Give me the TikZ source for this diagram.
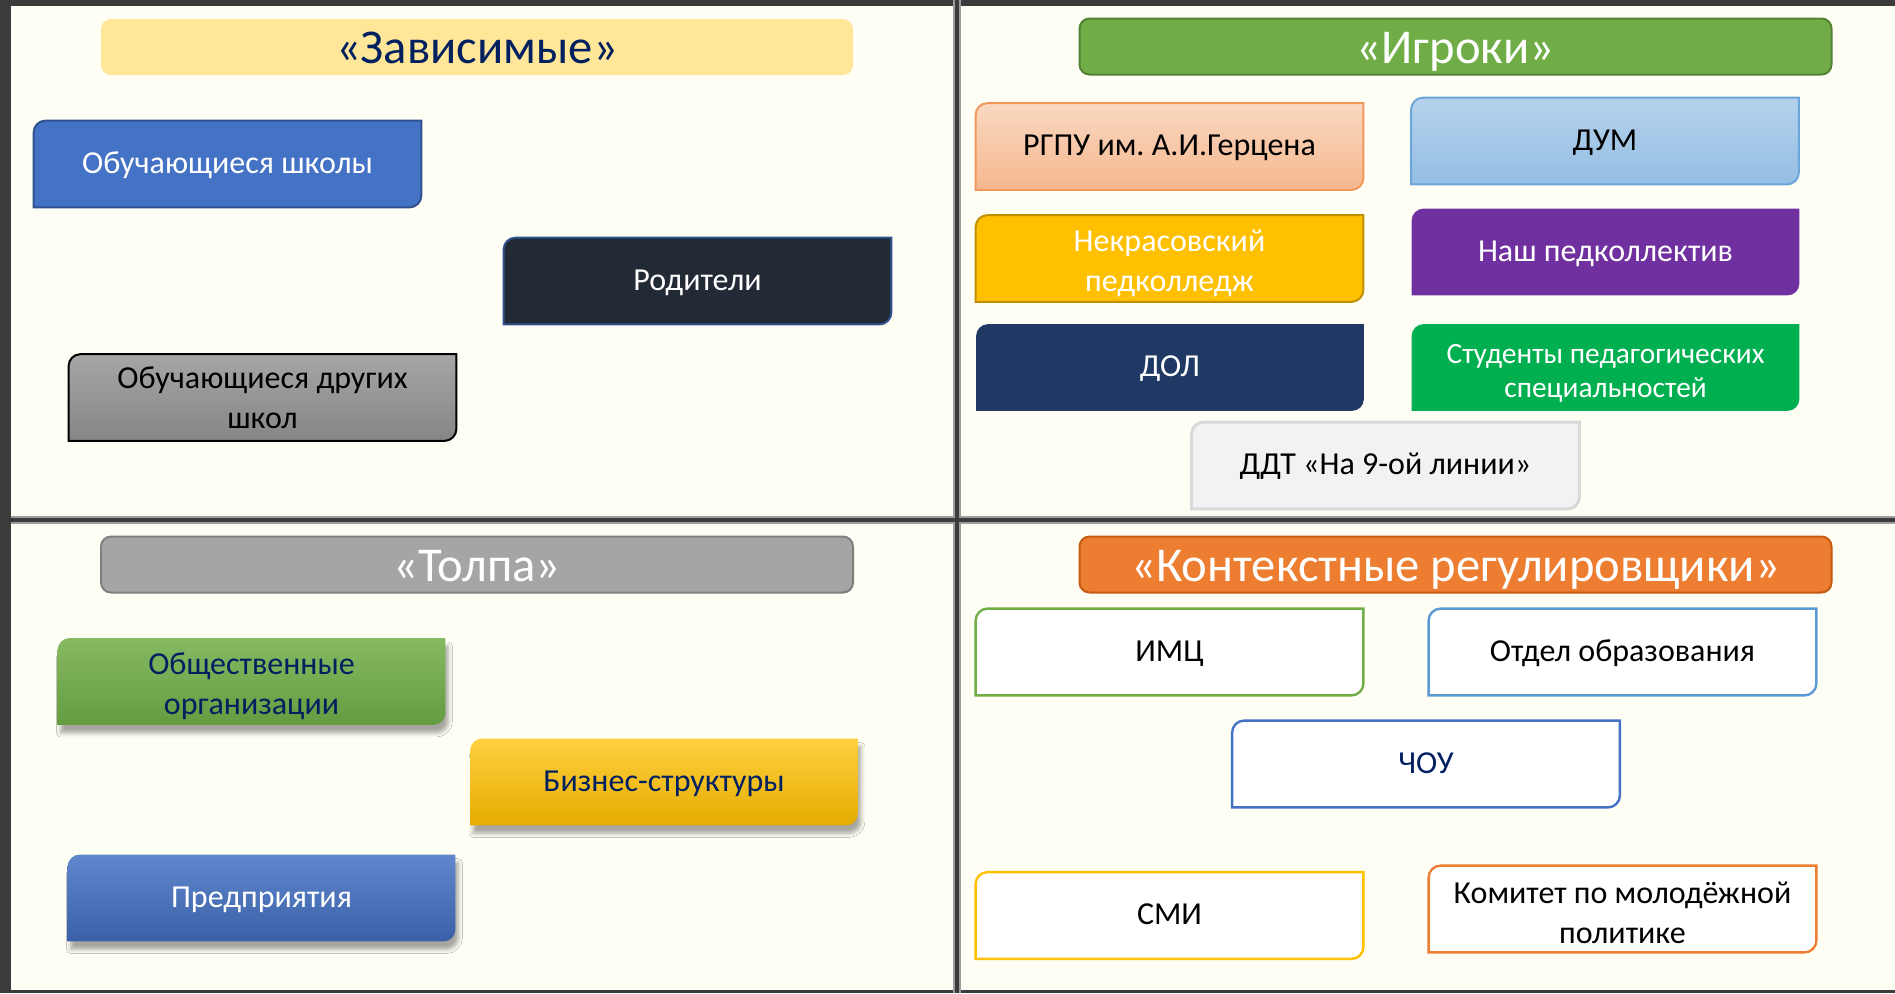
\documentclass[tikz,border=0pt]{standalone}
\usepackage{fontspec}
\setmainfont{Carlito}
\frenchspacing
\usetikzlibrary{calc,shadows.blur}
\pgfdeclarelayer{background}
\pgfsetlayers{background,main}

\definecolor{paper}{HTML}{FFFEF5}
\definecolor{frame}{HTML}{3B3B3B}
\definecolor{navy}{HTML}{002060}
\definecolor{schoolblue}{HTML}{4472C4}
\definecolor{edgeblue}{HTML}{2F528F}
\definecolor{parentdark}{HTML}{222A35}
\definecolor{lightyellow}{HTML}{FFE699}
\definecolor{grassgreen}{HTML}{70AD47}
\definecolor{darkgreen}{HTML}{548235}
\definecolor{midgray}{HTML}{A5A5A5}
\definecolor{edgegray}{HTML}{7F7F7F}
\definecolor{orange}{HTML}{ED7D31}
\definecolor{darkorange}{HTML}{C55A11}
\definecolor{gold}{HTML}{FFC000}
\definecolor{darkgold}{HTML}{BF9000}
\definecolor{violet}{HTML}{7030A0}
\definecolor{deepnavy}{HTML}{203864}
\definecolor{brightgreen}{HTML}{00B050}
\definecolor{skyblue}{HTML}{5B9BD5}
\definecolor{palegray}{HTML}{F2F2F2}
\definecolor{linegray}{HTML}{D9D9D9}

% raise the first line of a two-line card
\newcommand\liftline[1]{\rule{0pt}{#1}}

\tikzset{
  header/.style={minimum width=376pt, minimum height=28pt, inner sep=0pt,
    rounded corners=5pt, line width=1pt, text height=16.5pt, text depth=0pt,
    font=\fontsize{24.3}{29}\selectfont},
  card/.style={minimum width=193.5pt, minimum height=43pt, inner sep=0pt,
    align=center, font=\fontsize{16}{19.8}\selectfont,
    append after command={\pgfextra{\begin{pgfonlayer}{background}
      \path[line width=1pt,#1] (\tikzlastnode.south west)
        -- ($(\tikzlastnode.north west)+(0,-6pt)$)
        arc[start angle=180,end angle=90,radius=6pt]
        -- (\tikzlastnode.north east)
        -- ($(\tikzlastnode.south east)+(0,6pt)$)
        arc[start angle=0,end angle=-90,radius=6pt]
        -- cycle;
      \end{pgfonlayer}}}},
  oneline/.style={text height=11pt, text depth=2pt},
  raised/.style={blur shadow={shadow xshift=1.5pt, shadow yshift=-4pt,
    shadow blur radius=2pt, shadow opacity=35}},
  outline/.style={fill=white, draw=#1, line width=1.2pt}
}

\begin{document}
\begin{tikzpicture}[x=0.5pt,y=0.5pt]
\useasboundingbox (0,0) rectangle (1895,-993);

% panels
\begin{pgfonlayer}{background}
\fill[paper] (0,0) rectangle (1895,-993);
\fill[frame] (0,0) rectangle (1895,-6);
\fill[frame] (0,-990) rectangle (1895,-993);
\fill[frame] (0,0) rectangle (11,-993);
\draw[frame!50, line width=4pt] (957,0) -- (957,-993);
\draw[frame!50, line width=4pt] (11,-520) -- (1895,-520);
\draw[frame, line width=2pt] (957,0) -- (957,-993);
\draw[frame, line width=2pt] (11,-520) -- (1895,-520);
\end{pgfonlayer}

% headers
\node[header, fill=lightyellow, text=navy] (hdep) at (477,-47) {«Зависимые»};
\node[header, fill=grassgreen, draw=darkgreen, text=white] (hplay) at (1455.5,-46.5) {«Игроки»};
\node[header, fill=midgray, draw=edgegray, text=white] (hcrowd) at (477,-564.5) {«Толпа»};
\node[header, fill=orange, draw=darkorange, text=white] (hctx) at (1455.5,-564.5) {«Контекстные регулировщики»};

% dependent
\node[card={fill=schoolblue,draw=edgeblue}, oneline, text=white] (ourpupils) at (227.5,-164) {Обучающиеся школы};
\node[card={fill=parentdark,draw=edgeblue}, oneline, text=white] (parents) at (697.5,-281) {Родители};
\node[card={top color=gray!70,bottom color=gray!95,draw=black}, text=black] (otherpupils) at (262.5,-397.5) {Обучающиеся других\\школ};

% players
\node[card={top color=orange!30,bottom color=orange!55,draw=orange!80}, oneline, text=black] (rgpu) at (1169.5,-146.5) {РГПУ им. А.И.Герцена};
\node[card={top color=skyblue!45,bottom color=skyblue!65,draw=skyblue!90}, oneline, text=black] (dum) at (1605,-141) {ДУМ};
\node[card={fill=gold,draw=darkgold}, text=white] (nekr) at (1169.5,-258.5) {\liftline{15.5pt}Некрасовский\\педколледж};
\node[card={fill=violet}, oneline, text=white] (staff) at (1605.5,-252) {Наш педколлектив};
\node[card={fill=deepnavy}, oneline, text=white] (dol) at (1170,-367.5) {ДОЛ};
\node[card={fill=brightgreen}, text=white,
  font=\fontsize{14.7}{17}\selectfont] (students) at (1605.5,-367.5) {\liftline{15.8pt}Студенты педагогических\\специальностей};
\node[card={fill=palegray,draw=linegray,line width=1.5pt}, oneline, text=black] (ddt) at (1385.5,-465.5) {ДДТ «На 9-ой линии»};

% crowd
\node[card={raised,top color=grassgreen!85,bottom color=grassgreen!90!black}, text=navy] (public) at (251.5,-681.5) {\liftline{15.5pt}Общественные\\организации};
\node[card={raised,top color=gold!75,middle color=gold,bottom color=gold!90!black}, oneline, text=navy] (business) at (664,-782) {Бизнес-структуры};
\node[card={raised,top color=schoolblue!85,bottom color=schoolblue!85!black}, oneline, text=white] (firms) at (261.5,-898) {Предприятия};

% context setters
\node[card={outline=grassgreen}, oneline, text=black] (imc) at (1169.5,-652) {ИМЦ};
\node[card={outline=skyblue}, oneline, text=black] (eduoffice) at (1622.5,-652) {Отдел образования};
\node[card={outline=schoolblue}, oneline, text=navy] (chou) at (1426,-764) {ЧОУ};
\node[card={outline=gold}, oneline, text=black] (media) at (1169.5,-915.5) {СМИ};
\node[card={outline=orange}, text=black] (youth) at (1622.5,-909) {\liftline{14.5pt}Комитет по молодёжной\\политике};
\end{tikzpicture}
\end{document}
